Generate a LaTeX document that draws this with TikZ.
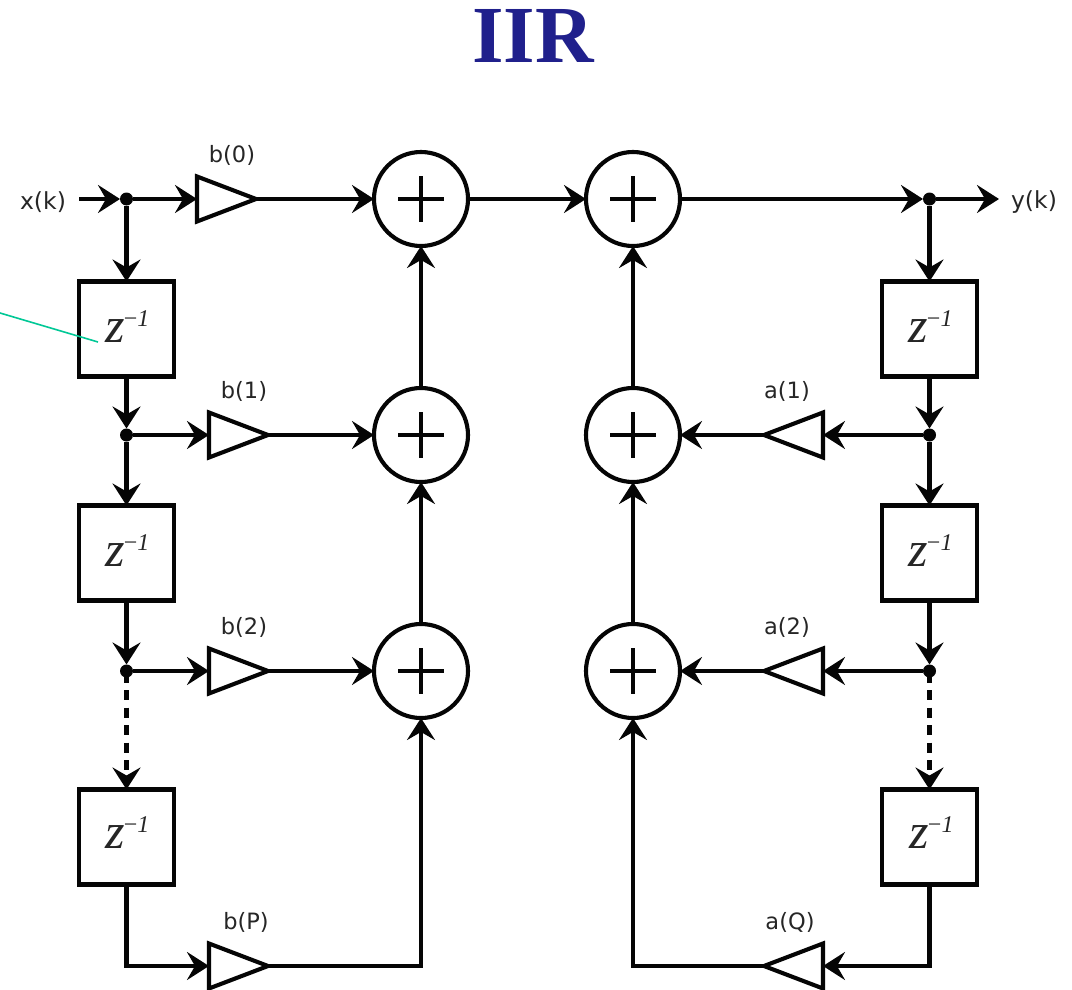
\documentclass[tikz,border=0pt]{standalone}
\usepackage{fontspec}
\setmainfont{DejaVu Sans}
\newfontfamily\serifz{Liberation Serif}
\usetikzlibrary{arrows.meta,shapes.geometric,calc}
\definecolor{titleblue}{RGB}{32,32,140}
\definecolor{callout}{RGB}{0,200,150}
\definecolor{inkc}{RGB}{5,5,5}
\newcommand{\zinv}{{\serifz\fontsize{50}{50}\selectfont\itshape z\kern-1pt\raisebox{16pt}{\fontsize{24}{24}\selectfont\upshape −\itshape 1}}}
\tikzset{
  x=1pt,y=-1pt,
  every path/.style={line width=4.1pt,color=inkc},
  every node/.style={outer sep=0pt},
  flow/.style={-{Stealth[length=22pt,width=28pt,inset=8pt]},line cap=butt},
  lbl/.style={font=\fontsize{22.5}{22.5}\selectfont,text=black!85,inner sep=0pt},
  iolbl/.style={lbl,font=\fontsize{23.5}{23.5}\selectfont},
  delaybox/.style={draw,fill=white,minimum width=95pt,minimum height=95pt,inner sep=0pt,text=black!85},
  sumnode/.style={draw,circle,minimum size=94pt,inner sep=0pt},
  gainr/.style={draw,isosceles triangle,isosceles triangle stretches,minimum width=45pt,minimum height=59pt,inner sep=0pt,line join=miter,miter limit=2},
  gainl/.style={gainr,shape border rotate=180},
  dotn/.style={circle,fill=inkc,minimum size=13pt,inner sep=0pt},
  dashflow/.style={flow,dash pattern=on 10pt off 7.5pt},
}
\newcommand{\plusat}[1]{\draw (#1.center) ++(-23,0) -- ++(46,0); \draw (#1.center) ++(0,-23) -- ++(0,46);}
\begin{document}
\begin{tikzpicture}
\useasboundingbox (0,0) rectangle (1072,990);
\fill[white] (0,0) rectangle (1072,990);
\node[font=\serifz\bfseries\fontsize{81}{81}\selectfont,text=titleblue,inner sep=0pt] (title) at (533,36) {IIR};
% sums
\foreach \n/\x/\y in {s1/421/199,s2/421/435,s3/421/671,t1/633/199,t2/633/435,t3/633/671}
  {\node[sumnode] (\n) at (\x,\y) {};\plusat{\n}}
% delays
\node[delaybox] (z1) at (126.5,329) {\hspace{2pt}\raisebox{5pt}{\zinv}};
\node[delaybox] (z2) at (126.5,553) {\hspace{2pt}\raisebox{5pt}{\zinv}};
\node[delaybox] (z3) at (126.5,837) {\hspace{2pt}\raisebox{9pt}{\zinv}};
\node[delaybox] (w1) at (929.5,329) {\hspace{2pt}\raisebox{5pt}{\zinv}};
\node[delaybox] (w2) at (929.5,553) {\hspace{2pt}\raisebox{5pt}{\zinv}};
\node[delaybox] (w3) at (929.5,837) {\hspace{4pt}\raisebox{9pt}{\zinv}};
% gains
\node[gainr,anchor=lower side] (b0) at (197,199) {};
\node[gainr,anchor=lower side] (b1) at (209,435) {};
\node[gainr,anchor=lower side] (b2) at (209,671) {};
\node[gainr,anchor=lower side] (bP) at (209,966) {};
\node[gainl,anchor=lower side] (a1) at (823,435) {};
\node[gainl,anchor=lower side] (a2) at (823,671) {};
\node[gainl,anchor=lower side] (aQ) at (823,966) {};
% labels
\node[iolbl] (xk) at (43,202) {x(k)};
\node[iolbl] (yk) at (1034,202) {y(k)};
\node[lbl] (lb0) at (232,155.5) {b(0)};
\node[lbl] (lb1) at (244,391.5) {b(1)};
\node[lbl] (lb2) at (244,627.5) {b(2)};
\node[lbl] (lbP) at (246,922.5) {b(P)};
\node[lbl] (la1) at (787,391.5) {a(1)};
\node[lbl] (la2) at (787,627.5) {a(2)};
\node[lbl] (laQ) at (790,922.5) {a(Q)};
\coordinate (xin) at (79,199);
\coordinate (yout) at (999,199);
% junctions
\node[dotn] (jx) at (126.5,199) {};
\node[dotn] (j1) at (126.5,435) {};
\node[dotn] (j2) at (126.5,671) {};
\node[dotn] (jy) at (929.5,199) {};
\node[dotn] (k1) at (929.5,435) {};
\node[dotn] (k2) at (929.5,671) {};
% connectors
\draw[flow] (xin) -- (jx.west);
\draw[flow] (jx.east) -- (b0.lower side);
\draw[flow] (b0.apex) -- (s1.west);
\draw[flow] (s1.east) -- (t1.west);
\draw[flow] (t1.east) -- (jy.west);
\draw[flow] (jy.east) -- (yout);
\draw[flow] (jx.south) -- (z1.north);
\draw[flow] (z1.south) -- (j1.north);
\draw[flow] (j1.east) -- (b1.lower side);
\draw[flow] (b1.apex) -- (s2.west);
\draw[flow] (j1.south) -- (z2.north);
\draw[flow] (z2.south) -- (j2.north);
\draw[flow] (j2.east) -- (b2.lower side);
\draw[flow] (b2.apex) -- (s3.west);
\draw[dashflow] ([yshift=5pt]j2.south) -- (z3.north);
\draw[flow] (z3.south) |- (bP.lower side);
\draw[flow] (bP.apex) -| (s3.south);
\draw[flow] (s3.north) -- (s2.south);
\draw[flow] (s2.north) -- (s1.south);
\draw[flow] (jy.south) -- (w1.north);
\draw[flow] (w1.south) -- (k1.north);
\draw[flow] (k1.west) -- (a1.lower side);
\draw[flow] (a1.apex) -- (t2.east);
\draw[flow] (k1.south) -- (w2.north);
\draw[flow] (w2.south) -- (k2.north);
\draw[flow] (k2.west) -- (a2.lower side);
\draw[flow] (a2.apex) -- (t3.east);
\draw[dashflow] ([yshift=5pt]k2.south) -- (w3.north);
\draw[flow] (w3.south) |- (aQ.lower side);
\draw[flow] (aQ.apex) -| (t3.south);
\draw[flow] (t3.north) -- (t2.south);
\draw[flow] (t2.north) -- (t1.south);
% callout
\coordinate (ca) at (0,313);
\coordinate (cb) at (98,342);
\draw[callout,line width=1.6pt] (ca) -- (cb);
\end{tikzpicture}
\end{document}
